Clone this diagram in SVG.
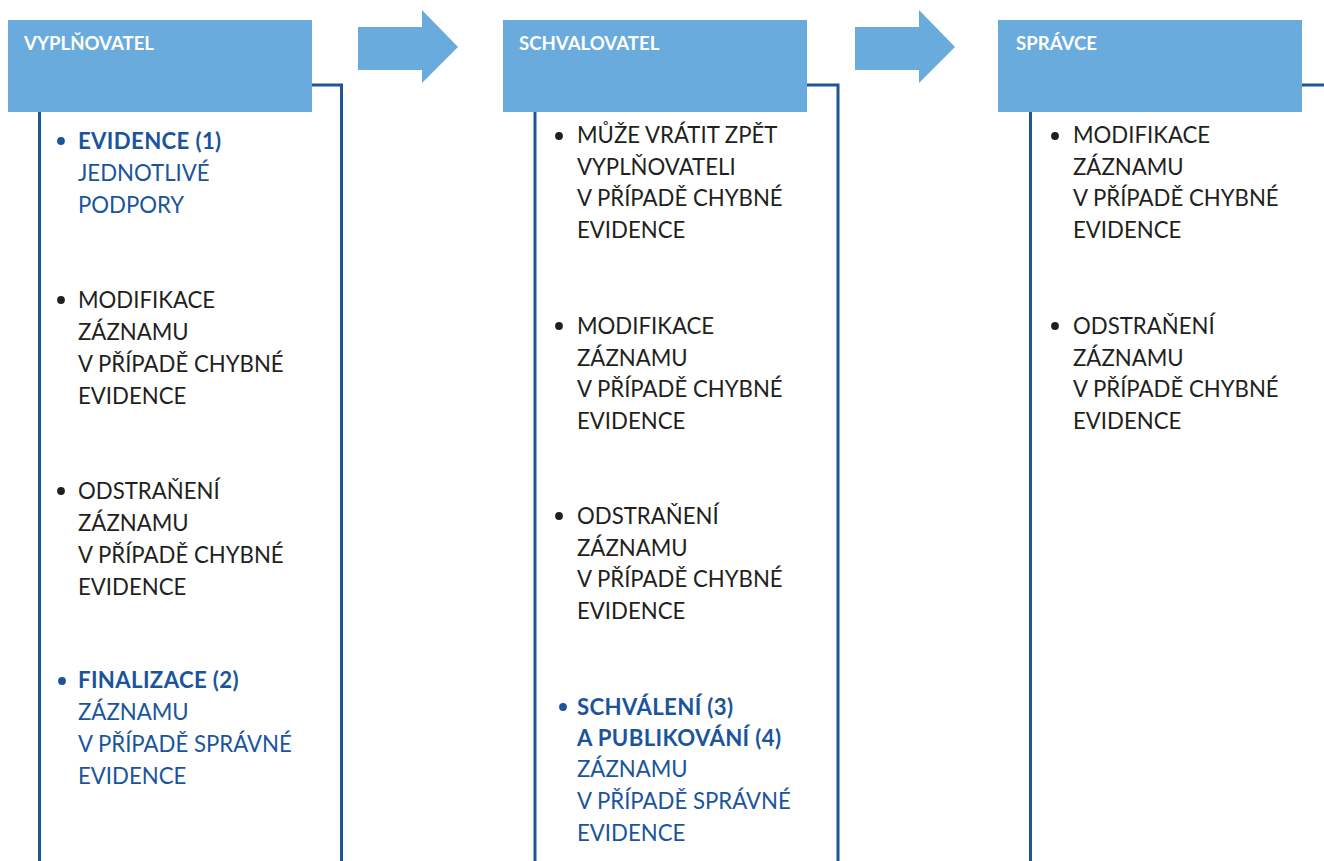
<svg xmlns="http://www.w3.org/2000/svg" width="1324" height="861" viewBox="0 0 1324 861">
  <style>
    .head { fill: #6aabdd; }
    .frame { fill: none; stroke: #1f5597; stroke-width: 3; }
    .flow { fill: #6aabdd; }
    .title { font-family: Lato, "Open Sans", sans-serif; font-weight: 700; font-size: 18.6px; fill: #ffffff; }
    .txt { font-family: Lato, "Open Sans", sans-serif; font-size: 22.2px; fill: #231f20; }
    .blue { fill: #1a559c; }
    .b { font-weight: 700; letter-spacing: 0.35px; }
    .dot { fill: #231f20; }
    .dot.blue { fill: #1a559c; }
  </style>
  <rect width="1324" height="861" fill="#ffffff"/>

  <!-- flow arrows between the roles -->
  <g id="connectors">
    <polygon class="flow" points="358,27 422,27 422,10 458,47 422,83 422,70 358,70"/>
    <polygon class="flow" points="855,27 919,27 919,10 955,47 919,83 919,70 855,70"/>
  </g>

  <!-- role 1 -->
  <g id="vyplnovatel">
    <path class="frame" d="M39.5,880 V85 H341.5 V880"/>
    <rect class="head" x="8" y="20" width="304" height="92"/>
    <text class="title" x="24" y="50">VYPLŇOVATEL</text>
    <circle class="dot blue" cx="61" cy="141" r="3.9"/>
    <text class="txt blue" x="78" y="149"><tspan class="b">EVIDENCE (1)</tspan><tspan x="78" dy="32">JEDNOTLIVÉ</tspan><tspan x="78" dy="32">PODPORY</tspan></text>
    <circle class="dot" cx="61" cy="300" r="3.9"/>
    <text class="txt" x="78" y="308">MODIFIKACE<tspan x="78" dy="32">ZÁZNAMU</tspan><tspan x="78" dy="32">V PŘÍPADĚ CHYBNÉ</tspan><tspan x="78" dy="32">EVIDENCE</tspan></text>
    <circle class="dot" cx="61" cy="491" r="3.9"/>
    <text class="txt" x="78" y="499">ODSTRAŇENÍ<tspan x="78" dy="32">ZÁZNAMU</tspan><tspan x="78" dy="32">V PŘÍPADĚ CHYBNÉ</tspan><tspan x="78" dy="32">EVIDENCE</tspan></text>
    <circle class="dot blue" cx="62" cy="681" r="3.9"/>
    <text class="txt blue" x="78" y="688"><tspan class="b">FINALIZACE (2)</tspan><tspan x="78" dy="32">ZÁZNAMU</tspan><tspan x="78" dy="32">V PŘÍPADĚ SPRÁVNÉ</tspan><tspan x="78" dy="32">EVIDENCE</tspan></text>
  </g>

  <!-- role 2 -->
  <g id="schvalovatel">
    <path class="frame" d="M535,880 V85 H838 V880"/>
    <rect class="head" x="503" y="20" width="304" height="92"/>
    <text class="title" x="519" y="50">SCHVALOVATEL</text>
    <circle class="dot" cx="559" cy="136" r="3.9"/>
    <text class="txt" x="577" y="143">MŮŽE VRÁTIT ZPĚT<tspan x="577" dy="32">VYPLŇOVATELI</tspan><tspan x="577" dy="31">V PŘÍPADĚ CHYBNÉ</tspan><tspan x="577" dy="32">EVIDENCE</tspan></text>
    <circle class="dot" cx="559" cy="326" r="3.9"/>
    <text class="txt" x="577" y="334">MODIFIKACE<tspan x="577" dy="32">ZÁZNAMU</tspan><tspan x="577" dy="31">V PŘÍPADĚ CHYBNÉ</tspan><tspan x="577" dy="32">EVIDENCE</tspan></text>
    <circle class="dot" cx="559" cy="516" r="3.9"/>
    <text class="txt" x="577" y="524">ODSTRAŇENÍ<tspan x="577" dy="32">ZÁZNAMU</tspan><tspan x="577" dy="31">V PŘÍPADĚ CHYBNÉ</tspan><tspan x="577" dy="32">EVIDENCE</tspan></text>
    <circle class="dot blue" cx="563" cy="707" r="3.9"/>
    <text class="txt blue" x="577" y="715"><tspan class="b">SCHVÁLENÍ (3)</tspan><tspan class="b" x="577" dy="31">A PUBLIKOVÁNÍ (4)</tspan><tspan x="577" dy="31">ZÁZNAMU</tspan><tspan x="577" dy="32">V PŘÍPADĚ SPRÁVNÉ</tspan><tspan x="577" dy="32">EVIDENCE</tspan></text>
  </g>

  <!-- role 3 -->
  <g id="spravce">
    <path class="frame" d="M1030.5,880 V85 H1330"/>
    <rect class="head" x="998" y="20" width="304" height="92"/>
    <text class="title" x="1016" y="50">SPRÁVCE</text>
    <circle class="dot" cx="1055" cy="136" r="3.9"/>
    <text class="txt" x="1073" y="143">MODIFIKACE<tspan x="1073" dy="32">ZÁZNAMU</tspan><tspan x="1073" dy="31">V PŘÍPADĚ CHYBNÉ</tspan><tspan x="1073" dy="32">EVIDENCE</tspan></text>
    <circle class="dot" cx="1055" cy="326" r="3.9"/>
    <text class="txt" x="1073" y="334">ODSTRAŇENÍ<tspan x="1073" dy="32">ZÁZNAMU</tspan><tspan x="1073" dy="31">V PŘÍPADĚ CHYBNÉ</tspan><tspan x="1073" dy="32">EVIDENCE</tspan></text>
  </g>
</svg>
